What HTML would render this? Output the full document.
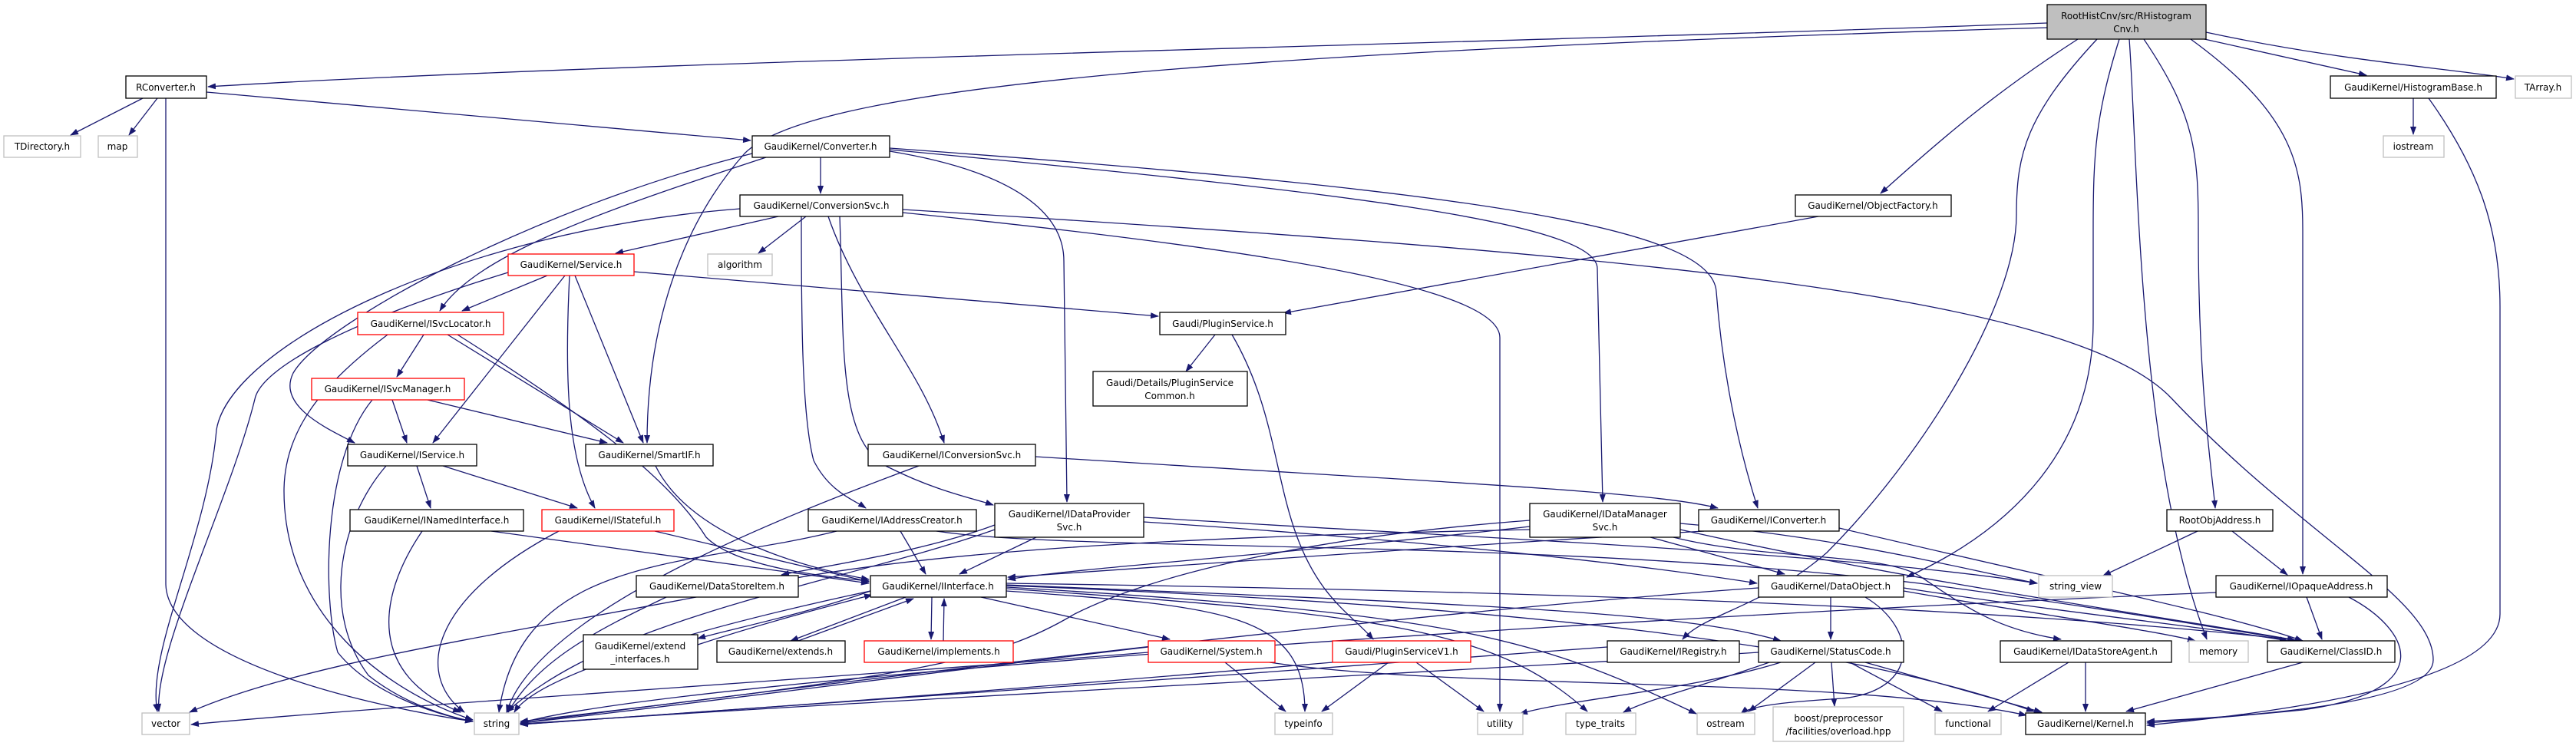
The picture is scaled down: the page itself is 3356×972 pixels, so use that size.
<!DOCTYPE html>
<html><head><meta charset="utf-8"><style>
html,body{margin:0;padding:0;background:#fff;}
svg{display:block;}
text{font-family:"DejaVu Sans","Liberation Sans",sans-serif;font-size:12px;fill:#000;}
.n{fill:#fff;stroke:#000;stroke-width:1.3;}
.g{fill:#fff;stroke:#bfbfbf;stroke-width:1.3;}
.r{fill:#fff;stroke:#ff0000;stroke-width:1.3;}
.e{fill:none;stroke:#191970;stroke-width:1.3;}
</style></head><body>
<svg width="3356" height="972" viewBox="0 0 3356 972" xmlns="http://www.w3.org/2000/svg">
<defs><marker id="a" markerWidth="11" markerHeight="8" refX="10" refY="4" orient="auto" markerUnits="userSpaceOnUse"><path d="M0,0 L11,4 L0,8 z" fill="#191970"/></marker></defs>
<g class="e" marker-end="url(#a)">
<path d="M2667,30 C2000,55 800,80 271,113"/>
<path d="M2667,36 C1500,70 1050,120 970,200 C890,290 843,420 843,577"/>
<path d="M186,128 L92,176"/>
<path d="M205,128 L168,176"/>
<path d="M216,128 L216,760 C216,860 480,920 616,940"/>
<path d="M269,120 L978,183"/>
<path d="M1069,205 L1069,252"/>
<path d="M998,205 C800,270 620,330 573,405"/>
<path d="M980,200 C700,270 420,420 382,486 C360,530 430,560 462,577"/>
<path d="M1159,197 C1360,230 1386,300 1386,340 L1390,654"/>
<path d="M1159,195 C1750,250 2081,290 2081,350 L2088,654"/>
<path d="M1159,193 C1950,250 2231,300 2236,380 C2245,500 2270,600 2290,662"/>
<path d="M1014,282 L802,330"/>
<path d="M1050,282 L988,330"/>
<path d="M964,272 C600,300 300,450 282,560 C270,700 190,850 205,927"/>
<path d="M662,355 C450,420 340,480 332,520 C300,650 200,850 207,927"/>
<path d="M1044,282 C1044,400 1044,540 1060,600 C1080,640 1110,650 1128,662"/>
<path d="M1094,282 C1100,450 1090,580 1160,610 C1220,640 1270,650 1294,658"/>
<path d="M1079,282 C1120,400 1200,480 1230,577"/>
<path d="M1176,277 C1700,330 1954,380 1954,440 L1954,927"/>
<path d="M1176,273 C2100,330 2700,380 2830,520 C3000,700 3170,780 3170,860 C3170,920 2900,935 2797,940"/>
<path d="M713,359 L602,405"/>
<path d="M826,354 L1509,412"/>
<path d="M749,359 L838,577"/>
<path d="M736,359 L564,577"/>
<path d="M742,359 C735,500 740,600 775,662"/>
<path d="M552,436 L517,491"/>
<path d="M583,436 L812,577"/>
<path d="M596,436 C760,540 870,620 920,700 C960,740 1080,752 1132,757"/>
<path d="M505,436 C420,500 370,560 370,640 C370,800 500,900 616,938"/>
<path d="M511,521 L530,577"/>
<path d="M557,521 L791,577"/>
<path d="M485,521 C420,600 420,780 440,850 C480,900 560,930 616,940"/>
<path d="M543,607 L561,662"/>
<path d="M577,607 L752,662"/>
<path d="M503,607 C440,680 420,800 480,880 C530,920 590,935 616,940"/>
<path d="M854,607 C900,700 1050,740 1132,755"/>
<path d="M640,692 L1132,760"/>
<path d="M550,692 C490,780 480,880 600,928"/>
<path d="M853,692 L1132,758"/>
<path d="M728,692 C560,780 540,880 605,928"/>
<path d="M868,778 C780,820 700,860 662,928"/>
<path d="M1173,692 L1206,748"/>
<path d="M1090,692 C900,740 680,720 650,928"/>
<path d="M1220,692 C1400,720 2000,700 2500,760 C2800,800 2950,830 3000,835"/>
<path d="M1350,700 L1250,748"/>
<path d="M1490,680 C1800,700 2100,730 2289,760"/>
<path d="M1490,674 C1900,700 2400,720 2654,760"/>
<path d="M1296,690 C1100,760 800,800 660,928"/>
<path d="M1296,684 C1200,720 1060,740 1018,749"/>
<path d="M1993,686 C1700,720 1400,740 1313,755"/>
<path d="M1993,678 C1700,700 1500,750 1400,800 C1300,860 1200,880 678,940"/>
<path d="M2150,700 L2325,748"/>
<path d="M2189,690 C2500,760 2800,800 2990,834"/>
<path d="M2189,682 C2400,700 2550,740 2654,760"/>
<path d="M2180,700 C2300,730 2450,720 2500,750 C2560,790 2600,820 2685,833"/>
<path d="M1993,690 C1500,700 1200,720 1000,760 C700,820 400,860 247,928"/>
<path d="M1134,770 C1050,800 950,820 909,832"/>
<path d="M909,840 C1000,810 1080,790 1136,775"/>
<path d="M1180,778 L1030,835"/>
<path d="M1040,835 L1190,780"/>
<path d="M1214,778 L1213,833"/>
<path d="M1229,835 L1230,780"/>
<path d="M1278,778 L1524,833"/>
<path d="M1311,770 C1600,790 1700,800 1700,927"/>
<path d="M1311,767 C1800,800 1950,820 2068,927"/>
<path d="M1311,765 C1900,800 2000,830 2210,930"/>
<path d="M1311,763 C2000,790 2400,840 2650,927"/>
<path d="M1311,760 C2000,770 2600,790 2990,834"/>
<path d="M1311,762 C2000,790 2200,800 2320,835"/>
<path d="M1134,770 C900,820 700,880 670,928"/>
<path d="M1496,843 C1100,890 800,930 678,942"/>
<path d="M1596,863 L1675,927"/>
<path d="M1654,863 C1900,900 2400,880 2640,932"/>
<path d="M1496,850 C1000,890 500,920 249,944"/>
<path d="M1736,863 C1300,900 900,930 678,943"/>
<path d="M1809,863 L1722,927"/>
<path d="M1845,863 L1933,927"/>
<path d="M1583,436 L1545,484"/>
<path d="M1605,436 C1660,530 1660,620 1690,700 C1720,780 1760,800 1789,833"/>
<path d="M2369,282 L1672,408"/>
<path d="M1349,595 C1900,630 2150,640 2238,662"/>
<path d="M1197,607 C1000,680 700,800 660,928"/>
<path d="M2220,692 C1900,710 1500,740 1313,752"/>
<path d="M2396,688 C2700,760 2900,800 3000,835"/>
<path d="M2385,778 L2385,833"/>
<path d="M2480,766 C2700,800 2900,820 2980,835"/>
<path d="M2291,766 C1800,800 1000,900 678,942"/>
<path d="M2430,778 C2500,820 2500,900 2400,910 C2320,915 2280,920 2268,930"/>
<path d="M2480,770 C2650,800 2800,820 2860,835"/>
<path d="M2365,863 L2278,927"/>
<path d="M2386,863 L2390,920"/>
<path d="M2410,863 L2530,927"/>
<path d="M2430,863 L2660,928"/>
<path d="M2320,863 C2200,900 2050,910 1980,930"/>
<path d="M2305,863 C2200,900 2150,910 2115,928"/>
<path d="M2291,850 C1800,880 1000,920 678,944"/>
<path d="M2094,843 C1600,880 900,930 678,944"/>
<path d="M2695,863 L2590,927"/>
<path d="M2717,863 L2717,927"/>
<path d="M3000,863 L2770,927"/>
<path d="M2863,692 L2740,750"/>
<path d="M2908,692 L2980,749"/>
<path d="M3005,778 L3025,833"/>
<path d="M3060,778 C3140,820 3180,900 3000,925 C2900,935 2820,940 2797,942"/>
<path d="M2887,772 C2200,800 900,880 678,942"/>
<path d="M2707,51 C2600,120 2530,180 2450,252"/>
<path d="M2732,51 C2640,150 2627,200 2627,280 C2627,400 2500,600 2380,720 C2300,790 2220,800 2192,833"/>
<path d="M2761,51 C2730,150 2727,200 2727,300 L2727,420 C2727,600 2600,700 2484,752"/>
<path d="M2774,51 C2785,200 2785,600 2875,833"/>
<path d="M2793,51 C2860,150 2864,200 2864,300 C2864,500 2880,600 2886,662"/>
<path d="M2854,51 C2990,150 3000,220 3000,300 L3000,748"/>
<path d="M2872,51 L3083,98"/>
<path d="M2874,42 C3050,80 3200,90 3275,103"/>
<path d="M3144,128 L3144,175"/>
<path d="M3164,128 C3230,220 3257,300 3257,400 L3257,800 C3257,900 2900,935 2797,945"/>
</g>
<g text-anchor="middle">
<rect x="2667" y="6" width="207" height="45" fill="#bfbfbf" stroke="#000" stroke-width="1.3"/><text x="2770" y="25">RootHistCnv/src/RHistogram</text><text x="2770" y="42">Cnv.h</text>
<rect class="n" x="164" y="99" width="105" height="29"/><text x="216" y="118">RConverter.h</text>
<rect class="g" x="5" y="177" width="100" height="28"/><text x="55" y="195">TDirectory.h</text>
<rect class="g" x="128" y="177" width="51" height="28"/><text x="153" y="195">map</text>
<rect class="n" x="980" y="177" width="179" height="28"/><text x="1069" y="195">GaudiKernel/Converter.h</text>
<rect class="n" x="964" y="254" width="212" height="28"/><text x="1070" y="272">GaudiKernel/ConversionSvc.h</text>
<rect class="r" x="662" y="331" width="164" height="28"/><text x="744" y="349">GaudiKernel/Service.h</text>
<rect class="g" x="922" y="331" width="84" height="28"/><text x="964" y="349">algorithm</text>
<rect class="r" x="466" y="407" width="190" height="29"/><text x="561" y="426">GaudiKernel/ISvcLocator.h</text>
<rect class="n" x="1511" y="407" width="164" height="29"/><text x="1593" y="426">Gaudi/PluginService.h</text>
<rect class="n" x="1424" y="484" width="201" height="45"/><text x="1524" y="503">Gaudi/Details/PluginService</text><text x="1524" y="520">Common.h</text>
<rect class="n" x="2339" y="254" width="203" height="28"/><text x="2440" y="272">GaudiKernel/ObjectFactory.h</text>
<rect class="n" x="3036" y="99" width="216" height="29"/><text x="3144" y="118">GaudiKernel/HistogramBase.h</text>
<rect class="g" x="3277" y="99" width="73" height="29"/><text x="3313" y="118">TArray.h</text>
<rect class="g" x="3105" y="177" width="79" height="28"/><text x="3144" y="195">iostream</text>
<rect class="r" x="406" y="493" width="199" height="28"/><text x="505" y="511">GaudiKernel/ISvcManager.h</text>
<rect class="n" x="453" y="579" width="168" height="28"/><text x="537" y="597">GaudiKernel/IService.h</text>
<rect class="n" x="763" y="579" width="166" height="28"/><text x="846" y="597">GaudiKernel/SmartIF.h</text>
<rect class="n" x="1131" y="579" width="218" height="28"/><text x="1240" y="597">GaudiKernel/IConversionSvc.h</text>
<rect class="n" x="456" y="664" width="226" height="28"/><text x="569" y="682">GaudiKernel/INamedInterface.h</text>
<rect class="r" x="706" y="664" width="172" height="28"/><text x="792" y="682">GaudiKernel/IStateful.h</text>
<rect class="n" x="1053" y="664" width="219" height="28"/><text x="1162" y="682">GaudiKernel/IAddressCreator.h</text>
<rect class="n" x="1296" y="656" width="194" height="44"/><text x="1393" y="674">GaudiKernel/IDataProvider</text><text x="1393" y="691">Svc.h</text>
<rect class="n" x="1993" y="656" width="196" height="44"/><text x="2091" y="674">GaudiKernel/IDataManager</text><text x="2091" y="691">Svc.h</text>
<rect class="n" x="2213" y="664" width="183" height="28"/><text x="2304" y="682">GaudiKernel/IConverter.h</text>
<rect class="n" x="2823" y="664" width="138" height="28"/><text x="2892" y="682">RootObjAddress.h</text>
<rect class="n" x="829" y="750" width="211" height="28"/><text x="934" y="768">GaudiKernel/DataStoreItem.h</text>
<rect class="n" x="1134" y="750" width="177" height="28"/><text x="1222" y="768">GaudiKernel/IInterface.h</text>
<rect class="n" x="2291" y="750" width="189" height="28"/><text x="2385" y="768">GaudiKernel/DataObject.h</text>
<rect class="g" x="2656" y="750" width="96" height="28"/><text x="2704" y="768">string_view</text>
<rect class="n" x="2887" y="750" width="223" height="28"/><text x="2998" y="768">GaudiKernel/IOpaqueAddress.h</text>
<rect class="n" x="760" y="827" width="149" height="45"/><text x="834" y="846">GaudiKernel/extend</text><text x="834" y="863">_interfaces.h</text>
<rect class="n" x="934" y="835" width="167" height="28"/><text x="1017" y="853">GaudiKernel/extends.h</text>
<rect class="r" x="1126" y="835" width="194" height="28"/><text x="1223" y="853">GaudiKernel/implements.h</text>
<rect class="r" x="1496" y="835" width="165" height="28"/><text x="1578" y="853">GaudiKernel/System.h</text>
<rect class="r" x="1736" y="835" width="180" height="28"/><text x="1826" y="853">Gaudi/PluginServiceV1.h</text>
<rect class="n" x="2094" y="835" width="172" height="28"/><text x="2180" y="853">GaudiKernel/IRegistry.h</text>
<rect class="n" x="2291" y="835" width="189" height="28"/><text x="2385" y="853">GaudiKernel/StatusCode.h</text>
<rect class="n" x="2606" y="835" width="223" height="28"/><text x="2717" y="853">GaudiKernel/IDataStoreAgent.h</text>
<rect class="g" x="2852" y="835" width="77" height="28"/><text x="2890" y="853">memory</text>
<rect class="n" x="2954" y="835" width="166" height="28"/><text x="3037" y="853">GaudiKernel/ClassID.h</text>
<rect class="g" x="185" y="929" width="62" height="28"/><text x="216" y="947">vector</text>
<rect class="g" x="618" y="929" width="58" height="28"/><text x="647" y="947">string</text>
<rect class="g" x="1661" y="929" width="75" height="28"/><text x="1698" y="947">typeinfo</text>
<rect class="g" x="1925" y="929" width="59" height="28"/><text x="1954" y="947">utility</text>
<rect class="g" x="2040" y="929" width="91" height="28"/><text x="2085" y="947">type_traits</text>
<rect class="g" x="2211" y="929" width="75" height="28"/><text x="2248" y="947">ostream</text>
<rect class="g" x="2310" y="921" width="170" height="45"/><text x="2395" y="940">boost/preprocessor</text><text x="2395" y="957">/facilities/overload.hpp</text>
<rect class="g" x="2521" y="929" width="86" height="28"/><text x="2564" y="947">functional</text>
<rect class="n" x="2639" y="929" width="156" height="28"/><text x="2717" y="947">GaudiKernel/Kernel.h</text>
</g>
</svg>
</body></html>
